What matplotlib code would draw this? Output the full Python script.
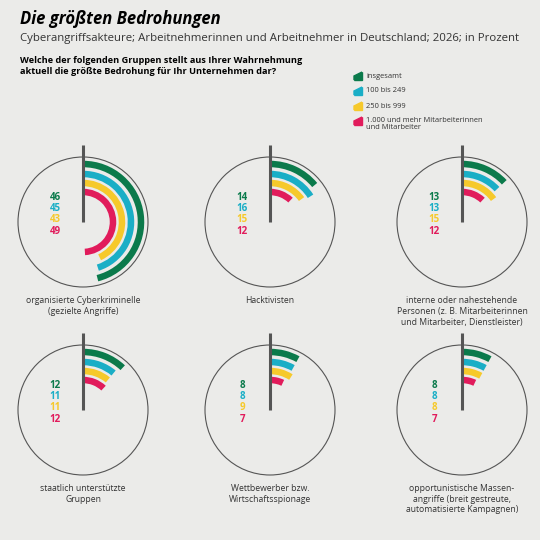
import matplotlib
matplotlib.use("Agg")
import matplotlib.pyplot as plt
from matplotlib.patches import Wedge, Circle, Polygon

categories = ["organisierte Cyberkriminelle\n(gezielte Angriffe)", "Hacktivisten",
              "interne oder nahestehende\nPersonen (z. B. Mitarbeiterinnen\nund Mitarbeiter, Dienstleister)",
              "staatlich unterstützte\nGruppen", "Wettbewerber bzw.\nWirtschaftsspionage",
              "opportunistische Massen-\nangriffe (breit gestreute,\nautomatisierte Kampagnen)"]
series = ["insgesamt", "100 bis 249", "250 bis 999", "1.000 und mehr Mitarbeiterinnen\nund Mitarbeiter"]
insgesamt = [46, 14, 13, 12, 8, 8]
g100 = [45, 16, 13, 11, 8, 8]
g250 = [43, 15, 15, 11, 9, 8]
g1000 = [49, 12, 12, 12, 7, 7]
colors = ["#0b7a4b", "#1aaec6", "#f6c92b", "#e11b5b"]
bg = "#ebebe9"

plt.rcParams['font.family'] = ['Open Sans', 'DejaVu Sans']
fig = plt.figure(figsize=(5.4, 5.4), dpi=100, facecolor=bg)
ax = fig.add_axes([0, 0, 1, 1])
ax.set_xlim(0, 540); ax.set_ylim(0, 540); ax.set_aspect('equal'); ax.axis('off')
ax.set_facecolor(bg)
Y = lambda py: 540 - py

fig.text(20/540, 1-19/540, "Die größten Bedrohungen", fontsize=12, fontweight='bold', style='italic', va='center')
fig.text(20/540, 1-39/540, "Cyberangriffsakteure; Arbeitnehmerinnen und Arbeitnehmer in Deutschland; 2026; in Prozent", fontsize=8.2, va='center', color='#333')
fig.text(20/540, 1-66/540, "Welche der folgenden Gruppen stellt aus Ihrer Wahrnehmung\naktuell die größte Bedrohung für Ihr Unternehmen dar?", fontsize=6.6, fontweight='bold', va='center', linespacing=1.3)

# legend
for i, (s, c) in enumerate(zip(series, colors)):
    py = 76 + i * 15
    ax.add_patch(Polygon([(354, Y(py+4)), (362, Y(py+4)), (362, Y(py-4))], closed=True, color=c))
    ax.add_patch(Polygon([(354, Y(py+4)), (354, Y(py)), (362, Y(py-4))], closed=True, color=c))
    ax.text(366, Y(py), s, fontsize=5.4, va='center' if i < 3 else 'top', color='#333',
            linespacing=1.0) if i < 3 else ax.text(366, Y(py-4), s, fontsize=5.4, va='top', color='#333', linespacing=1.0)

centers = [(83, 222), (270, 222), (462, 222), (83, 410), (270, 410), (462, 410)]
R = 65
radii = [58, 48, 39, 30]
w = 6.5
data = [insgesamt, g100, g250, g1000]
for k, (cx, cy) in enumerate(centers):
    ax.add_patch(Circle((cx, Y(cy)), R, fill=False, ec='#555', lw=0.8))
    for j in range(4):
        v = data[j][k]
        ax.add_patch(Wedge((cx, Y(cy)), radii[j] + w/2, 90 - 3.6 * v, 90, width=w, color=colors[j], lw=0))
    ax.plot([cx, cx], [Y(cy - 77), Y(cy)], color='#555', lw=2.2, solid_capstyle='butt')
    for j in range(4):
        ax.text(cx - 28, Y(cy - 25 + j * 11.5), str(data[j][k]), fontsize=7, fontweight='bold',
                color=colors[j], ha='center', va='center')
    ax.text(cx, Y(cy + 74), categories[k], fontsize=6.2, ha='center', va='top', color='#333', linespacing=1.25)

fig.savefig("out.png", dpi=100, facecolor=bg)
